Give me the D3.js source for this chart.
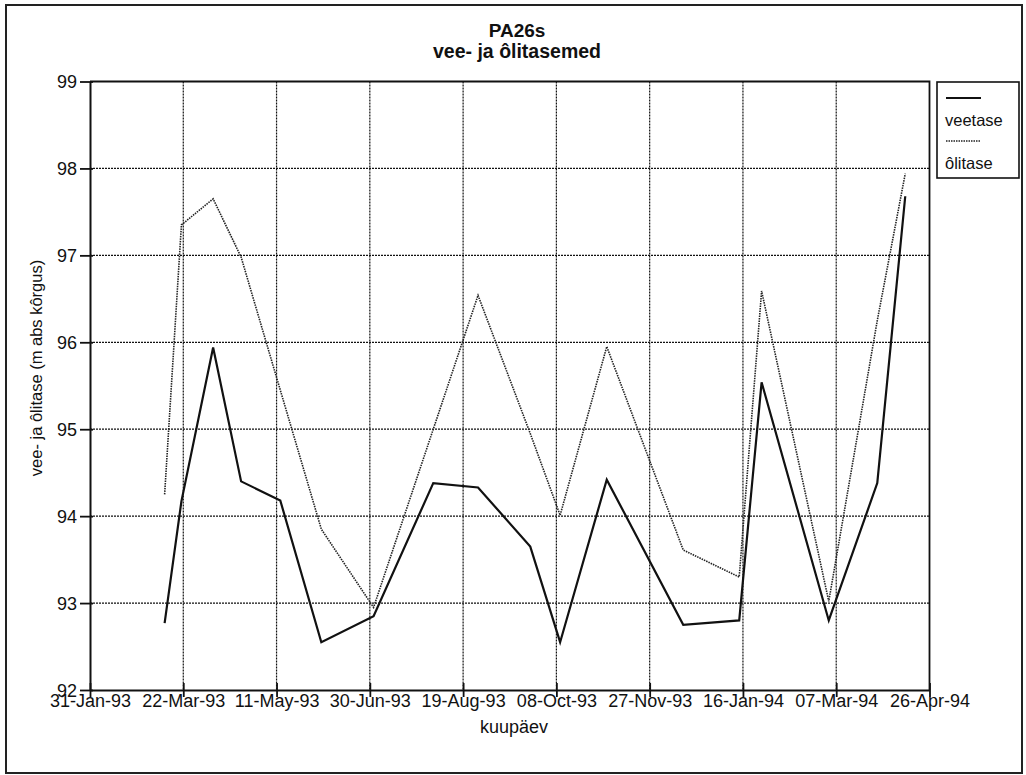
<!DOCTYPE html>
<html>
<head>
<meta charset="utf-8">
<script src="https://cdn.jsdelivr.net/npm/d3@7"></script>
<style>
  body { margin: 0; background: #fff; }
  svg { font-family: "Liberation Sans", Arial, sans-serif; }
</style>
</head>
<body>
<svg id="chart" width="1026" height="775"></svg>
<script>
// Measurement dates (kuupäev)
var dates = ["1993-03-12", "1993-03-21", "1993-04-07", "1993-04-22", "1993-05-13",
    "1993-06-04", "1993-07-02", "1993-08-03", "1993-08-27", "1993-09-24",
    "1993-10-10", "1993-11-04", "1993-12-15", "1994-01-14", "1994-01-26",
    "1994-03-03", "1994-03-29", "1994-04-13"];

// Water level (veetase)
var veetase = [92.77, 94.17, 95.94, 94.40, 94.18, 92.55, 92.85, 94.38, 94.33, 93.65,
    92.55, 94.42, 92.75, 92.80, 95.54, 92.80, 94.38, 97.68];

// Oil level (ôlitase)
var olitase = [94.25, 97.35, 97.65, 96.98, 95.45, 93.85, 92.95, 95.00, 96.54, 94.95,
    94.01, 95.95, 93.61, 93.30, 96.59, 93.02, 96.25, 97.94];

// Axis ticks
var xTicks = ["1993-01-31", "1993-03-22", "1993-05-11", "1993-06-30", "1993-08-19",
    "1993-10-08", "1993-11-27", "1994-01-16", "1994-03-07", "1994-04-26"];
var yTicks = [92, 93, 94, 95, 96, 97, 98, 99];

var parse = d3.timeParse("%Y-%m-%d");
var fmt = d3.timeFormat("%d-%b-%y");

var plotLeft = 90, plotRight = 929.5, plotTop = 81.5, plotBottom = 690;

var svg = d3.select("#chart");

// outer frame
svg.append("rect")
    .attr("x", 6).attr("y", 5)
    .attr("width", 1016).attr("height", 768)
    .attr("fill", "none")
    .attr("stroke", "#222")
    .attr("stroke-width", 2);

var x = d3.scaleTime()
    .domain([parse(xTicks[0]), parse(xTicks[xTicks.length - 1])])
    .range([plotLeft, plotRight]);

var y = d3.scaleLinear()
    .domain([92, 99])
    .range([plotBottom, plotTop]);

// grid
var grid = svg.append("g").attr("class", "grid");

grid.selectAll(".vgrid")
    .data(xTicks.slice(1, -1))
    .enter()
    .append("line")
    .attr("x1", function(d) { return x(parse(d)); })
    .attr("x2", function(d) { return x(parse(d)); })
    .attr("y1", plotTop)
    .attr("y2", plotBottom)
    .attr("stroke", "#111")
    .attr("stroke-width", 1.2)
    .attr("stroke-dasharray", "2,1");

grid.selectAll(".hgrid")
    .data(yTicks.slice(1, -1))
    .enter()
    .append("line")
    .attr("x1", plotLeft)
    .attr("x2", plotRight)
    .attr("y1", function(d) { return y(d); })
    .attr("y2", function(d) { return y(d); })
    .attr("stroke", "#111")
    .attr("stroke-width", 1.2)
    .attr("stroke-dasharray", "2,1");

// top and right border of plot
svg.append("path")
    .attr("d", "M" + plotLeft + "," + plotTop + "H" + plotRight + "V" + plotBottom)
    .attr("fill", "none")
    .attr("stroke", "#111")
    .attr("stroke-width", 1.8);

// x axis
var xAxis = svg.append("g")
    .attr("transform", "translate(0," + plotBottom + ")")
    .call(d3.axisBottom(x)
        .tickValues(xTicks.map(parse))
        .tickFormat(fmt)
        .tickSizeOuter(0));

xAxis.select(".domain")
    .attr("stroke", "#111")
    .attr("stroke-width", 2);
xAxis.selectAll(".tick line")
    .attr("y1", -7).attr("y2", 7)
    .attr("stroke", "#111")
    .attr("stroke-width", 1.8);
xAxis.selectAll(".tick text")
    .attr("y", 17).attr("dy", 0)
    .attr("fill", "#111")
    .style("font-size", "18px")
    .style("font-family", "Liberation Sans, Arial, sans-serif");

// y axis
var yAxis = svg.append("g")
    .attr("transform", "translate(" + plotLeft + ",0)")
    .call(d3.axisLeft(y)
        .tickValues(yTicks)
        .tickFormat(d3.format("d"))
        .tickSizeOuter(0));

yAxis.select(".domain")
    .attr("stroke", "#111")
    .attr("stroke-width", 2);
yAxis.selectAll(".tick line")
    .attr("x1", -10).attr("x2", 3)
    .attr("stroke", "#111")
    .attr("stroke-width", 1.8);
yAxis.selectAll(".tick text")
    .attr("x", -13).attr("dy", "0.34em")
    .attr("fill", "#111")
    .style("font-size", "18px")
    .style("font-family", "Liberation Sans, Arial, sans-serif");

// series
var rows = dates.map(function(d, i) {
    return { date: parse(d), vee: veetase[i], oli: olitase[i] };
});

var oliLine = d3.line()
    .x(function(d) { return x(d.date); })
    .y(function(d) { return y(d.oli); });

var veeLine = d3.line()
    .x(function(d) { return x(d.date); })
    .y(function(d) { return y(d.vee); });

svg.append("path")
    .datum(rows)
    .attr("d", oliLine)
    .attr("fill", "none")
    .attr("stroke", "#222")
    .attr("stroke-width", 1.6)
    .attr("stroke-dasharray", "1.5,1");

svg.append("path")
    .datum(rows)
    .attr("d", veeLine)
    .attr("fill", "none")
    .attr("stroke", "#111")
    .attr("stroke-width", 2.2)
    .attr("stroke-linejoin", "miter");

// titles
svg.append("text")
    .attr("x", 517).attr("y", 37)
    .attr("text-anchor", "middle")
    .style("font-size", "19px")
    .style("font-weight", "bold")
    .attr("fill", "#111")
    .text("PA26s");

svg.append("text")
    .attr("x", 517).attr("y", 58)
    .attr("text-anchor", "middle")
    .style("font-size", "19.5px")
    .style("font-weight", "bold")
    .attr("fill", "#111")
    .text("vee- ja ôlitasemed");

svg.append("text")
    .attr("x", 514).attr("y", 733)
    .attr("text-anchor", "middle")
    .style("font-size", "18px")
    .attr("fill", "#111")
    .text("kuupäev");

svg.append("text")
    .attr("transform", "translate(42,368) rotate(-90)")
    .attr("text-anchor", "middle")
    .style("font-size", "16.5px")
    .attr("fill", "#111")
    .text("vee- ja ôlitase (m abs kôrgus)");

// legend
var legend = svg.append("g").attr("class", "legend");

legend.append("rect")
    .attr("x", 937).attr("y", 82)
    .attr("width", 82).attr("height", 96)
    .attr("fill", "#fff")
    .attr("stroke", "#111")
    .attr("stroke-width", 1.6);

legend.append("line")
    .attr("x1", 946).attr("x2", 981)
    .attr("y1", 98).attr("y2", 98)
    .attr("stroke", "#111")
    .attr("stroke-width", 2);

legend.append("text")
    .attr("x", 945).attr("y", 126)
    .style("font-size", "16.5px")
    .attr("fill", "#111")
    .text("veetase");

legend.append("line")
    .attr("x1", 946).attr("x2", 981)
    .attr("y1", 141).attr("y2", 141)
    .attr("stroke", "#222")
    .attr("stroke-width", 1.6)
    .attr("stroke-dasharray", "1.5,1");

legend.append("text")
    .attr("x", 945).attr("y", 169)
    .style("font-size", "16.5px")
    .attr("fill", "#111")
    .text("ôlitase");
</script>
</body>
</html>
